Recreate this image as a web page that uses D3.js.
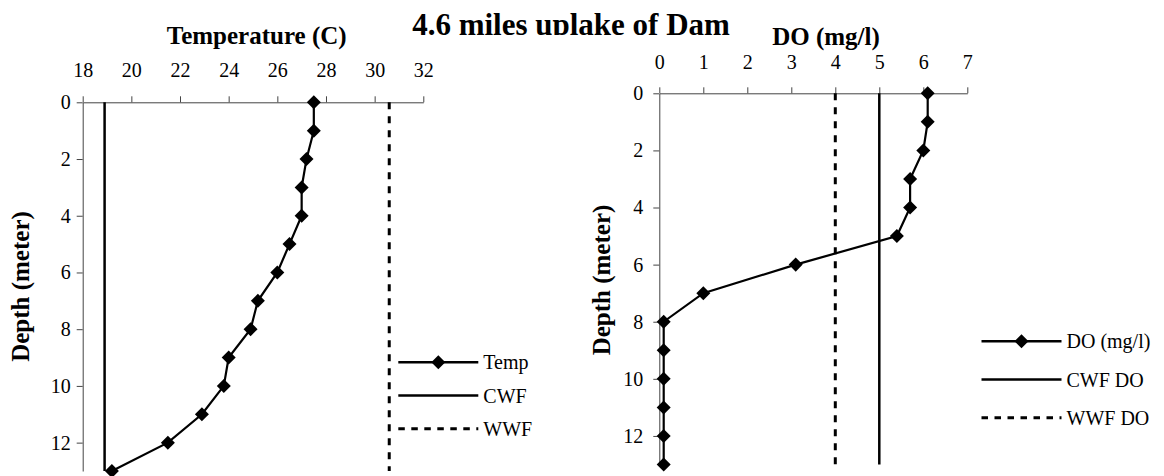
<!DOCTYPE html>
<html>
<head>
<meta charset="utf-8">
<script src="https://cdn.jsdelivr.net/npm/d3@7"></script>
<style>
  html, body { margin: 0; padding: 0; background: #fff; }
  svg { display: block; font-family: "Liberation Serif", "Times New Roman", serif; }
</style>
</head>
<body>
<div id="chart"></div>
<script>
// depth profile, 4.6 miles uplake of the dam
const depth = [0, 1, 2, 3, 4, 5, 6, 7, 8, 9, 10, 11, 12, 13];
const temp = [27.5, 27.5, 27.2, 27.0, 27.0, 26.5, 26.0, 25.2, 24.9, 24.0, 23.8, 22.9, 21.5, 19.2];
const dissolvedOxygen = [6.1, 6.1, 6.0, 5.7, 5.7, 5.4, 3.1, 1.0, 0.1, 0.1, 0.1, 0.1, 0.1, 0.1];
const tempTicks = [18, 20, 22, 24, 26, 28, 30, 32];
const doTicks = [0, 1, 2, 3, 4, 5, 6, 7];
const depthTicks = [0, 2, 4, 6, 8, 10, 12];
const tempCriteria = { cwf: 18.9, wwf: 30.6 };
const doCriteria = { cwf: 5, wwf: 4 };
const tempLegend = ["Temp", "CWF", "WWF"];
const doLegend = ["DO (mg/l)", "CWF DO", "WWF DO"];

const W = 1164, H = 476;
const serif = "'Liberation Serif', 'Times New Roman', serif";

const svg = d3.select("#chart").append("svg")
  .attr("width", W)
  .attr("height", H);

// title is cut off just under the baseline in the original
svg.append("clipPath").attr("id", "titleClip")
  .append("rect").attr("x", 0).attr("y", 0).attr("width", W).attr("height", 35);

svg.append("text")
  .attr("clip-path", "url(#titleClip)")
  .attr("x", 571)
  .attr("y", 34.5)
  .attr("text-anchor", "middle")
  .attr("font-size", 31)
  .attr("font-weight", "bold")
  .text("4.6 miles uplake of Dam");

const diamond = d3.symbolDiamond2 || {
  draw(ctx, size) {
    const r = Math.sqrt(size) * 0.62625;
    ctx.moveTo(0, -r); ctx.lineTo(r, 0); ctx.lineTo(0, r); ctx.lineTo(-r, 0); ctx.closePath();
  }
};
const marker = d3.symbol().type(diamond).size(125);

class Profile {
  constructor(opt) {
    this.opt = opt;
    this.x = d3.scaleLinear().domain(opt.xDomain).range(opt.xRange);
    this.y = d3.scaleLinear().domain([0, 13]).range(opt.yRange);
    this.g = svg.append("g");
  }

  axes() {
    const o = this.opt;
    const xAxis = this.g.append("g")
      .attr("transform", `translate(0,${this.y(0)})`)
      .call(d3.axisTop(this.x).tickValues(o.xTicks).tickFormat(d3.format("d"))
        .tickSize(6).tickSizeOuter(0).tickPadding(o.xPad));
    const yAxis = this.g.append("g")
      .attr("transform", `translate(${this.x(o.xDomain[0])},0)`)
      .call(d3.axisLeft(this.y).tickValues(depthTicks).tickFormat(d3.format("d"))
        .tickSize(6).tickSizeOuter(0).tickPadding(o.yPad));
    [xAxis, yAxis].forEach((a) => {
      a.attr("font-family", serif).attr("font-size", 20);
      a.selectAll("path, line").attr("stroke", "#444").attr("stroke-width", 1);
      a.selectAll("text").attr("fill", "#000");
    });

    this.g.append("text")
      .attr("x", o.xTitle[0])
      .attr("y", o.xTitle[1])
      .attr("text-anchor", "middle")
      .attr("font-size", 25)
      .attr("font-weight", "bold")
      .text(o.xLabel);

    this.g.append("text")
      .attr("transform", `translate(${o.yTitle[0]},${o.yTitle[1]}) rotate(-90)`)
      .attr("text-anchor", "middle")
      .attr("dy", "0.35em")
      .attr("font-size", 25)
      .attr("font-weight", "bold")
      .text("Depth (meter)");
  }

  criteria() {
    const o = this.opt;
    const vline = (v, dash, w) => this.g.append("line")
      .attr("x1", this.x(v)).attr("x2", this.x(v))
      .attr("y1", this.y(0)).attr("y2", this.y(13))
      .attr("stroke", "#000")
      .attr("stroke-width", w)
      .attr("stroke-dasharray", dash);
    vline(o.criteria.cwf, null, 2.5);
    vline(o.criteria.wwf, "7,7", 3);
  }

  series() {
    const o = this.opt;
    const line = d3.line()
      .x((d, i) => this.x(o.values[i]))
      .y((d) => this.y(d));
    this.g.append("path")
      .datum(depth)
      .attr("fill", "none")
      .attr("stroke", "#000")
      .attr("stroke-width", 2.2)
      .attr("d", line);
    this.g.append("g")
      .selectAll("path")
      .data(depth)
      .join("path")
      .attr("transform", (d, i) => `translate(${this.x(o.values[i])},${this.y(d)})`)
      .attr("d", marker)
      .attr("fill", "#000");
  }

  legend() {
    const o = this.opt;
    const [lx, ly] = o.legendAt;
    const row = this.g.append("g")
      .selectAll("g")
      .data(o.legend)
      .join("g")
      .attr("transform", (d, i) => `translate(${lx},${ly + i * o.legendGap})`);
    row.append("line")
      .attr("x1", 0).attr("x2", 80)
      .attr("stroke", "#000")
      .attr("stroke-width", (d, i) => (i === 2 ? 3 : 2.5))
      .attr("stroke-dasharray", (d, i) => (i === 2 ? "6.5,6.5" : null));
    row.filter((d, i) => i === 0)
      .append("path")
      .attr("transform", "translate(40,0)")
      .attr("d", marker)
      .attr("fill", "#000");
    row.append("text")
      .attr("x", 85)
      .attr("dy", "0.35em")
      .attr("font-size", 20)
      .text((d) => d);
  }

  render() {
    this.axes();
    this.criteria();
    this.series();
    this.legend();
  }
}

new Profile({
  xDomain: [18, 32],
  xRange: [82.7, 423.3],
  yRange: [102.3, 471],
  xTicks: tempTicks,
  xPad: 19.5,
  yPad: 6,
  values: temp,
  criteria: tempCriteria,
  xLabel: "Temperature (C)",
  xTitle: [256.7, 44],
  yTitle: [20, 286.5],
  legend: tempLegend,
  legendAt: [398.3, 362.3],
  legendGap: 33.2
}).render();

new Profile({
  xDomain: [0, 7],
  xRange: [659.3, 967.3],
  yRange: [93.3, 464.5],
  xTicks: doTicks,
  xPad: 18.3,
  yPad: 10,
  values: dissolvedOxygen,
  criteria: doCriteria,
  xLabel: "DO (mg/l)",
  xTitle: [826, 45],
  yTitle: [601.7, 280],
  legend: doLegend,
  legendAt: [981.5, 341.3],
  legendGap: 38.2
}).render();
</script>
</body>
</html>
